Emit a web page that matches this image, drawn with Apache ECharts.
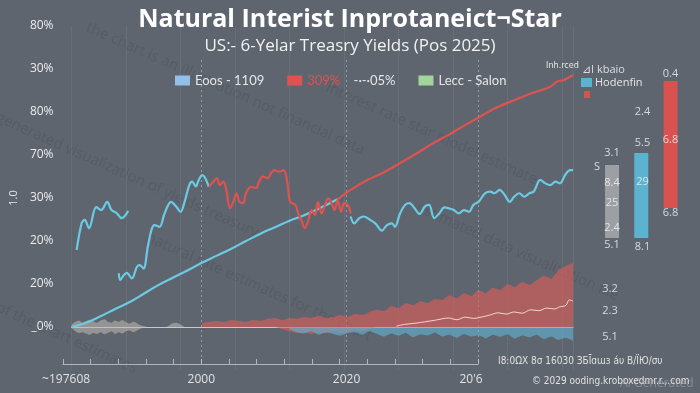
<!DOCTYPE html>
<html><head><meta charset="utf-8">
<script src="https://cdn.jsdelivr.net/npm/echarts@6/dist/echarts.min.js"></script>
<style>html,body{margin:0;padding:0;background:#5e656f}#c{width:700px;height:393px}</style>
</head><body><div id="c"></div>
<script>
// ---------- data ----------
const titleText = 'Natural Interist Inprotaneict\u00ACStar';
const subTitleText = 'US:- 6-Yelar Treasry Yields (Pos 2025)';
const yTickLabels = ['', '_0%', '20%', '20%', '30%', '70%', '80%', '30%', '80%']; // values -1..7
const xTickCount = 61;
const xLabelIdx = [0, 20, 41, 59];
const xLabelText = ['  ~197608', '2000', '2020', "20'6"];
const dashIdx = [20, 41, 60];

const wavy1Years = [1981.7,1982.4,1982.8,1983.4,1984.4,1985.1,1985.9,1986.5,1987.2,1987.9,1988.8];
const wavy1Vals  = [1.79,2.42,2.49,2.30,2.79,2.72,2.91,2.72,2.65,2.53,2.70];

const wavy2Years = [1987.5,1987.7,1988.2,1988.6,1989.3,1990.0,1990.4,1990.9,1991.5,1992.0,1992.4,1993.1,1993.8,1994.7,1995.4,1996.0,1996.5,1997.2,1997.6,1998.1,1998.5,1999.0,1999.4,1999.9];
const wavy2Vals  = [1.25,1.09,1.21,1.26,1.13,1.40,1.44,1.36,1.87,2.26,2.37,2.33,2.64,2.91,2.80,2.68,2.88,3.30,3.38,3.27,3.42,3.53,3.46,3.26];

const redWavyYears = [1999.9,2000.5,2001.0,2001.4,2001.9,2002.3,2002.8,2003.2,2003.7,2004.1,2004.6,2005.0,2005.7,2006.4,2006.8,2007.3,2008.0,2008.4,2008.9,2009.5,2010.2,2010.7,2011.1,2011.8,2012.2,2012.7,2013.1,2013.6,2014.0,2014.5,2014.9,2015.4,2015.8,2016.3,2016.7,2017.2,2017.6,2018.1,2018.5,2019.0,2019.4];
const redWavyVals  = [3.26,3.38,3.46,3.30,3.38,3.19,2.76,2.88,3.11,2.91,2.88,3.11,3.26,3.23,3.38,3.50,3.46,3.57,3.65,3.61,3.65,3.34,2.91,2.84,2.64,2.45,2.30,2.49,2.72,2.60,2.91,2.64,2.80,2.99,2.91,2.72,2.95,2.68,2.88,2.84,2.64];

const wavy3Years = [2019.4,2019.9,2020.6,2021.2,2022.1,2022.8,2023.7,2024.4,2025.1,2025.5,2026.2,2026.9,2027.5,2028.2,2028.9,2029.6,2030.2,2030.9,2031.6,2032.3,2032.9,2033.6,2034.3,2035.0,2035.7,2036.3,2037.0,2037.9,2038.6,2039.2,2039.9,2040.6,2041.3,2041.9,2042.6,2043.3,2044.0,2044.6,2045.5,2046.2,2046.9,2047.6,2048.2,2048.9,2049.6,2050.0];
const wavy3Vals  = [2.57,2.41,2.53,2.57,2.49,2.41,2.24,2.37,2.41,2.33,2.64,2.84,2.88,2.76,2.63,2.80,2.84,2.53,2.64,2.78,2.76,2.72,2.64,2.72,2.68,2.84,2.91,3.11,3.15,3.11,3.19,3.07,2.91,3.03,3.11,3.03,3.11,3.15,3.42,3.34,3.30,3.38,3.34,3.53,3.65,3.65];

const trendYears = [1981,1983,1985,1987,1989,1991,1993,1995,1997,1999,2001,2003,2005,2007,2009,2011,2013,2015,2017.6];
const trendVals  = [0,0.1,0.25,0.42,0.58,0.78,0.98,1.15,1.32,1.5,1.66,1.82,2.0,2.17,2.32,2.47,2.6,2.75,2.97];

const riseYears = [2017.6,2019.5,2021.7,2024,2026.2,2028.5,2030.7,2033,2035.2,2037.5,2039.7,2042,2044.2,2046.9,2047.8,2048.7,2050];
const riseVals  = [2.97,3.2,3.42,3.6,3.81,4.04,4.27,4.48,4.70,4.92,5.12,5.28,5.43,5.59,5.71,5.74,5.86];

const redAreaStart = 1999;
const redAreaTop = [0.09,0.12,0.14,0.12,0.16,0.14,0.12,0.16,0.14,0.19,0.21,0.16,0.21,0.19,0.23,0.21,0.26,0.21,0.23,0.28,0.23,0.30,0.28,0.35,0.40,0.37,0.49,0.44,0.56,0.51,0.60,0.56,0.65,0.63,0.74,0.67,0.79,0.72,0.86,0.79,0.91,0.86,1.0,0.93,1.05,0.98,1.09,1.19,1.12,1.33,1.42,1.49];
const redNegStart = 2009;
const redNegVals = [0,-0.05,-0.1,-0.14,-0.12,-0.16,-0.13,-0.15,-0.1,-0.14,-0.12,-0.08,-0.1,-0.05,0];
const blueAreaStart = 2011;
const blueAreaVals = [-0.05,-0.12,-0.15,-0.1,-0.18,-0.12,-0.16,-0.2,-0.14,-0.12,-0.18,-0.1,-0.16,-0.22,-0.15,-0.2,-0.14,-0.24,-0.17,-0.2,-0.13,-0.22,-0.18,-0.25,-0.16,-0.22,-0.19,-0.26,-0.18,-0.23,-0.17,-0.27,-0.2,-0.24,-0.18,-0.28,-0.22,-0.3,-0.25,-0.32];

const whiteYears = [2025.7,2026.8,2028.4,2029.6,2031.1,2032.9,2034,2035.2,2036.3,2037.4,2038.6,2039.7,2040.8,2041.9,2043,2044.2,2045.3,2046.4,2047.4,2048.2,2049.0,2049.5,2050];
const whiteVals  = [0.02,0.06,0.09,0.12,0.16,0.21,0.17,0.23,0.2,0.23,0.28,0.33,0.3,0.35,0.32,0.40,0.38,0.44,0.42,0.47,0.5,0.63,0.6];

const grayYears = [1981,1981.5,1982,1982.5,1983,1983.5,1984,1984.5,1985,1985.5,1986,1986.5,1987,1987.5,1988,1988.5,1989,1989.5,1990,1990.5,1991,1991.5,1992,1994,1994.8,1995.4,1996,1996.6];
const grayTop = [0.05,0.12,0.15,0.1,0.14,0.17,0.13,0.1,0.15,0.18,0.12,0.1,0.15,0.12,0.16,0.11,0.08,0.12,0.09,0.04,0.02,0,0,0,0.08,0.1,0.06,0];
const grayBot = [-0.02,-0.1,-0.14,-0.12,-0.15,-0.18,-0.14,-0.16,-0.12,-0.17,-0.14,-0.1,-0.16,-0.12,-0.15,-0.1,-0.08,-0.12,-0.08,-0.04,-0.02,0,0,0,0,0,0,0];

// right panel bars
const barCats = ['g', 'c', 'r'];
const barBase = [10.7, 10.7, 13.7];
const barLen = [7.3, 8.5, 12.7];
const barColors = ['#9c9fa3', '#5cb3cf', '#d9524f'];
const rLabelX = [2.2,2.2,2.2,2.2,2.2, 5.25,5.25,5.25,5.25, 8.05,8.05,8.05, 0.7, 2.0,2.0,2.0];
const rLabelY = [19.2,16.2,14.2,11.7,10.0, 23.3,20.2,16.3,9.8, 27.1,20.5,13.2, 17.8, 5.6,3.4,0.8];
const rLabelText = ['3.1','8.4','25','2.4','5.1', '2.4','5.5','29','8.1', '0.4','6.8','6.8', 'S', '3.2','2.3','5.1'];

// ---------- chart ----------
const pairs = (xs, ys) => xs.map((x, i) => [x, ys[i]]);
const fromStart = (start, ys) => ys.map((v, i) => [start + i, v]);
const xCats = Array.from({length: xTickCount}, (_, i) => String(i));

const CYAN = '#6ccbe4', RED = '#e0524f';
const chart = echarts.init(document.getElementById('c'));
const lineBase = {type: 'line', xAxisIndex: 0, yAxisIndex: 0, symbol: 'none', smooth: 0.35};
const areaBase = {type: 'line', xAxisIndex: 0, yAxisIndex: 0, symbol: 'none', lineStyle: {width: 0}, smooth: 0.25};
const WM = 'rgba(40,45,52,0.14)';

chart.setOption({
  animation: false,
  backgroundColor: '#5e656f',
  textStyle: {fontFamily: 'Open Sans'},
  title: {
    text: titleText, subtext: subTitleText, left: 'center', top: 2, itemGap: 6,
    textStyle: {color: '#ffffff', fontSize: 25, fontWeight: 'bold', fontFamily: 'Open Sans'},
    subtextStyle: {color: '#f2f2f2', fontSize: 17, fontFamily: 'Open Sans'}
  },
  legend: {
    left: 170, top: 69, itemWidth: 15, itemHeight: 10, itemGap: 23, icon: 'rect',
    data: [
      {name: 'Eoos - 1109', itemStyle: {color: '#93bfe8'}},
      {name: '309%', itemStyle: {color: RED}},
      {name: 'Lecc - Salon', itemStyle: {color: '#a3d49b'}}
    ],
    formatter: n => n === '309%' ? '{r|309%}    {w|-·-·05%}' : n,
    textStyle: {color: '#e6e6e6', fontSize: 13, fontFamily: 'Lato', rich: {r: {color: RED, fontSize: 13, fontFamily: 'Lato'}, w: {color: '#e6e6e6', fontSize: 13, fontFamily: 'Lato'}}},
    selectedMode: false
  },
  grid: [
    {left: 62, right: 127, top: 26, bottom: 23},
    {left: 63, width: 415, top: 60, height: 304},
    {left: 590, width: 100, top: 60, height: 285},
    {left: 597.4, width: 87.75, top: 60, height: 285}
  ],
  xAxis: [
    {type: 'value', gridIndex: 0, min: 1981, max: 2050, interval: 7.5,
     axisLabel: {show: false}, axisTick: {show: false},
     axisLine: {onZero: true, lineStyle: {color: 'rgba(235,235,235,0.75)', width: 1}},
     splitLine: {show: true, lineStyle: {color: 'rgba(255,255,255,0.06)'}}},
    {type: 'category', gridIndex: 1, data: xCats, boundaryGap: false,
     axisLine: {lineStyle: {color: 'rgba(225,225,225,0.65)'}},
     axisTick: {inside: true, length: 5, interval: (i) => i % 4 === 0, lineStyle: {color: 'rgba(225,225,225,0.65)'}},
     axisLabel: {color: '#e2e2e2', fontSize: 12, margin: 10,
       interval: (i) => xLabelIdx.includes(i),
       formatter: (v, i) => { const k = xLabelIdx.indexOf(i); return k >= 0 ? xLabelText[k] : ''; }},
     splitLine: {show: true, interval: (i) => dashIdx.includes(i), lineStyle: {color: 'rgba(255,255,255,0.35)', type: [2, 3]}}},
    {type: 'value', gridIndex: 2, min: 0, max: 10, show: false},
    {type: 'category', gridIndex: 3, data: barCats, show: false}
  ],
  yAxis: [
    {type: 'value', gridIndex: 0, min: -1, max: 7, interval: 1,
     axisLine: {show: false}, axisTick: {show: false}, splitLine: {show: false},
     axisLabel: {color: '#ececec', fontSize: 12, margin: 18, formatter: v => yTickLabels[Math.round(v) + 1]},
     name: '1.0', nameLocation: 'middle', nameGap: 45, nameRotate: 90,
     nameTextStyle: {color: '#e6e6e6', fontSize: 11}},
    {type: 'value', gridIndex: 1, min: 0, max: 1, show: false},
    {type: 'value', gridIndex: 2, min: 0, max: 28.5, show: false},
    {type: 'value', gridIndex: 3, min: 0, max: 28.5, show: false}
  ],
  series: [
    {...areaBase, name: 'Lecc - Salon', data: pairs(grayYears, grayTop), areaStyle: {color: 'rgba(190,186,178,0.8)'}},
    {...areaBase, name: 'grayLow', data: pairs(grayYears, grayBot), areaStyle: {color: 'rgba(190,186,178,0.8)'}},
    {...areaBase, name: 'redArea', data: fromStart(redAreaStart, redAreaTop), areaStyle: {color: 'rgba(222,92,86,0.9)'}, smooth: 0.15},
    {...areaBase, name: 'redNeg', data: fromStart(redNegStart, redNegVals), areaStyle: {color: 'rgba(222,92,86,0.85)'}},
    {...areaBase, name: 'blueArea', data: fromStart(blueAreaStart, blueAreaVals), areaStyle: {color: 'rgba(98,178,210,0.9)'}, smooth: 0.15},
    {...lineBase, name: 'white', data: pairs(whiteYears, whiteVals), lineStyle: {color: 'rgba(255,235,230,0.85)', width: 1}},
    {...lineBase, name: 'trend', data: pairs(trendYears, trendVals), lineStyle: {color: CYAN, width: 2.2}, smooth: 0.5},
    {...lineBase, name: 'rise', data: pairs(riseYears, riseVals), lineStyle: {color: RED, width: 2.2}, smooth: 0.3},
    {...lineBase, name: 'Eoos - 1109', data: pairs(wavy1Years, wavy1Vals), lineStyle: {color: CYAN, width: 2.2}},
    {...lineBase, name: 'Eoos - 1109', data: pairs(wavy2Years, wavy2Vals), lineStyle: {color: CYAN, width: 2.2}},
    {...lineBase, name: '309%', data: pairs(redWavyYears, redWavyVals), lineStyle: {color: RED, width: 2.2}},
    {...lineBase, name: 'Eoos - 1109', data: pairs(wavy3Years, wavy3Vals), lineStyle: {color: CYAN, width: 2.2}},
    {type: 'bar', name: 'base', xAxisIndex: 3, yAxisIndex: 3, stack: 'r', barWidth: 14, silent: true,
     itemStyle: {color: 'rgba(0,0,0,0)'}, data: barBase},
    {type: 'bar', name: 'bars', xAxisIndex: 3, yAxisIndex: 3, stack: 'r', barWidth: 14,
     data: barLen.map((v, i) => ({value: v, itemStyle: {color: barColors[i]}}))},
    {type: 'scatter', name: 'rlabels', xAxisIndex: 2, yAxisIndex: 2, symbolSize: 1, z: 5,
     itemStyle: {color: 'rgba(0,0,0,0)'}, data: pairs(rLabelX, rLabelY),
     label: {show: true, position: 'inside', color: '#f4f4f4', fontSize: 11, formatter: p => rLabelText[p.dataIndex]}}
  ],
  graphic: [
    {type: 'text', x: 546, y: 66, style: {text: 'Inh.rced', fill: '#e8e8e8', font: '9px "DejaVu Sans Condensed"', verticalAlign: 'middle'}},
    {type: 'text', x: 582, y: 70, style: {text: '\u22BFI kbaio', fill: '#dddddd', font: '11px "Open Sans"', verticalAlign: 'middle'}},
    {type: 'rect', shape: {x: 581, y: 78, width: 11, height: 9}, style: {fill: '#5cb3cf'}},
    {type: 'text', x: 595, y: 83, style: {text: 'Hodenfin', fill: '#e6e6e6', font: '11px "Open Sans"', verticalAlign: 'middle'}},
    {type: 'rect', shape: {x: 584, y: 91, width: 6, height: 7}, style: {fill: '#d9524f'}},
    {type: 'text', x: 498, y: 361, style: {text: 'I8:0ΩX 8σ 16030 ЗБĪɑɯɜ áυ В/ЇЮ/συ', fill: '#e0e0e0', font: '10px "DejaVu Sans Condensed"', verticalAlign: 'middle'}},
    {type: 'text', x: 532, y: 381, style: {text: '© 2029 ooding.kroboxedmr.r.,.com', fill: '#e0e0e0', font: '10px "DejaVu Sans Condensed"', verticalAlign: 'middle'}},
    {type: 'text', x: 620, y: 384, style: {text: 'AI Generated', fill: 'rgba(200,200,200,0.4)', font: '12px "Open Sans"', verticalAlign: 'middle'}},
    {type: 'text', x: 90, y: 20, rotation: -0.42, z: -1, style: {text: 'the chart is an illustration not financial data', fill: WM, font: '15px "Open Sans"'}},
    {type: 'text', x: 0, y: 110, rotation: -0.42, z: -1, style: {text: 'generated visualization of yields treasury', fill: WM, font: '15px "Open Sans"'}},
    {type: 'text', x: 0, y: 300, rotation: -0.42, z: -1, style: {text: 'of the chart estimates', fill: WM, font: '15px "Open Sans"'}},
    {type: 'text', x: 150, y: 230, rotation: -0.42, z: -1, style: {text: 'natural rate estimates for the chart', fill: WM, font: '15px "Open Sans"'}},
    {type: 'text', x: 330, y: 80, rotation: -0.42, z: -1, style: {text: 'interest rate star model estimate', fill: WM, font: '15px "Open Sans"'}},
    {type: 'text', x: 420, y: 200, rotation: -0.42, z: -1, style: {text: 'estimated data visualization file', fill: WM, font: '15px "Open Sans"'}}
  ]
});
</script>
</body></html>
